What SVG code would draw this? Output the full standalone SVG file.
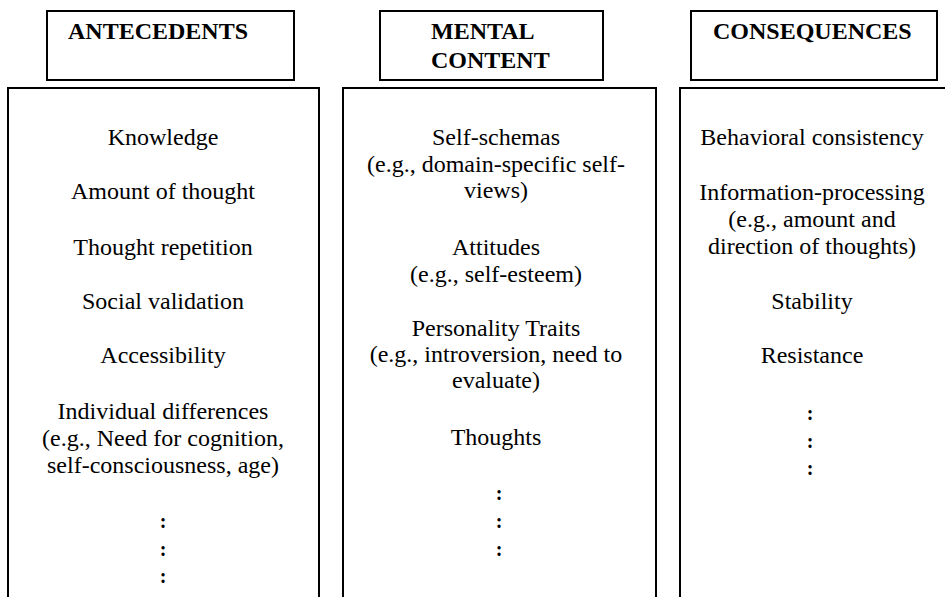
<svg xmlns="http://www.w3.org/2000/svg" width="945" height="597" viewBox="0 0 945 597">
<style>
.box{fill:#fff;stroke:#000;stroke-width:2}
</style>
<rect width="945" height="597" fill="#fff"/>
<g font-family="'Liberation Serif', 'Times New Roman', serif" fill="#000">
<g id="antecedents-header" font-size="24" font-weight="bold">
<rect class="box" x="47" y="11" width="247" height="69"/>
<text x="68" y="39">ANTECEDENTS</text>
</g>
<g id="mental-header" font-size="24" font-weight="bold">
<rect class="box" x="380" y="11" width="223" height="69"/>
<text x="431" y="39">MENTAL</text>
<text x="431" y="68">CONTENT</text>
</g>
<g id="consequences-header" font-size="24" font-weight="bold">
<rect class="box" x="691" y="11" width="246" height="69"/>
<text x="713" y="39">CONSEQUENCES</text>
</g>
<g id="antecedents" font-size="24" text-anchor="middle">
<rect class="box" x="8" y="88" width="311" height="530"/>
<text x="163" y="145">Knowledge</text>
<text x="163" y="199">Amount of thought</text>
<text x="163" y="255">Thought repetition</text>
<text x="163" y="309">Social validation</text>
<text x="163" y="363">Accessibility</text>
<text x="163" y="419">Individual differences</text>
<text x="163" y="446">(e.g., Need for cognition,</text>
<text x="163" y="473">self-consciousness, age)</text>
<g font-size="20" font-weight="bold">
<text x="163" y="528">:</text>
<text x="163" y="556">:</text>
<text x="163" y="583">:</text>
</g>
</g>
<g id="mental-content" font-size="24" text-anchor="middle">
<rect class="box" x="343" y="88" width="313" height="530"/>
<text x="496" y="145">Self-schemas</text>
<text x="496" y="172">(e.g., domain-specific self-</text>
<text x="496" y="198">views)</text>
<text x="496" y="255">Attitudes</text>
<text x="496" y="282">(e.g., self-esteem)</text>
<text x="496" y="336">Personality Traits</text>
<text x="496" y="362">(e.g., introversion, need to</text>
<text x="496" y="388">evaluate)</text>
<text x="496" y="445">Thoughts</text>
<g font-size="20" font-weight="bold">
<text x="499" y="500">:</text>
<text x="499" y="528">:</text>
<text x="499" y="556">:</text>
</g>
</g>
<g id="consequences" font-size="24" text-anchor="middle">
<rect class="box" x="680" y="88" width="300" height="530"/>
<text x="812" y="145">Behavioral consistency</text>
<text x="812" y="200">Information-processing</text>
<text x="812" y="227">(e.g., amount and</text>
<text x="812" y="254">direction of thoughts)</text>
<text x="812" y="309">Stability</text>
<text x="812" y="363">Resistance</text>
<g font-size="20" font-weight="bold">
<text x="810" y="420">:</text>
<text x="810" y="448">:</text>
<text x="810" y="475">:</text>
</g>
</g>
</g>
<g id="connectors"></g>
</svg>
